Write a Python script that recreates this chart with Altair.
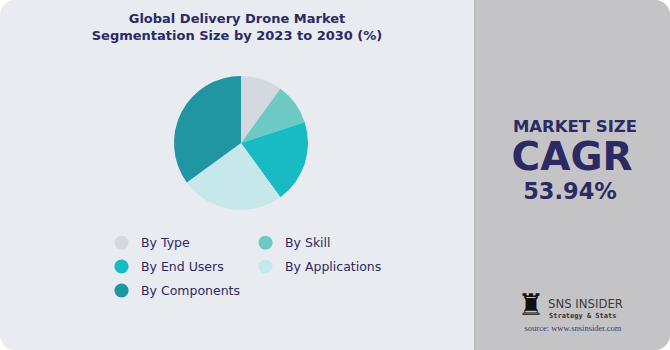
import altair as alt
import pandas as pd

# ---- data ----
segments = ["By Type", "By Skill", "By End Users", "By Applications", "By Components"]
shares = [10, 10, 20, 25, 35]
colors = ["#d3d9df", "#6cc9c4", "#18bac4", "#c6e8ea", "#2196a3"]
# legend reading order (column-major fill of a 2-column grid)
legend_order = ["By Type", "By End Users", "By Components", "By Skill", "By Applications"]

title_lines = ["Global Delivery Drone Market", "Segmentation Size by 2023 to 2030 (%)"]
side_label = ["MARKET SIZE"]
side_big = ["CAGR"]
side_value = ["53.94%"]
brand_name = ["SNS INSIDER"]
brand_tag = ["Strategy & Stats"]
source_text = ["source: www.snsinsider.com"]

NAVY = "#2b2a63"
FONT = "DejaVu Sans"

color_of = dict(zip(segments, colors))
pie_df = pd.DataFrame({"segment": segments, "share": shares, "idx": list(range(len(segments)))})
one = pd.DataFrame({"k": [0]})

bg_left = alt.Chart(one).mark_rect(color="#e8ebf0", cornerRadius=15).encode(
    x=alt.value(0), x2=alt.value(670), y=alt.value(0), y2=alt.value(350)
)
bg_right = alt.Chart(one).mark_rect(
    color="#c4c4c6", cornerRadiusTopRight=15, cornerRadiusBottomRight=15
).encode(x=alt.value(474), x2=alt.value(670), y=alt.value(0), y2=alt.value(350))
divider = alt.Chart(one).mark_rect(color="#b9babd").encode(
    x=alt.value(474), x2=alt.value(475.5), y=alt.value(0), y2=alt.value(350)
)

pie = alt.Chart(pie_df).mark_arc(radius=67, stroke=None).encode(
    theta=alt.Theta("share:Q", stack=True),
    order=alt.Order("idx:Q"),
    color=alt.Color(
        "segment:N",
        scale=alt.Scale(domain=legend_order, range=[color_of[s] for s in legend_order]),
        legend=alt.Legend(
            title=None,
            orient="none",
            legendX=114,
            legendY=235,
            columns=2,
            symbolType="circle",
            symbolSize=200,
            symbolStrokeWidth=0,
            labelFont=FONT,
            labelFontSize=12.5,
            labelColor=NAVY,
            labelOffset=12,
            rowPadding=9,
            columnPadding=17,
        ),
    ),
    x=alt.value(241),
    y=alt.value(143),
)


def txt(values, x, y, size, weight="normal", font=FONT, color=NAVY, align="center", baseline="middle"):
    return alt.Chart(pd.DataFrame({"t": values})).mark_text(
        font=font, fontSize=size, fontWeight=weight, color=color, align=align, baseline=baseline
    ).encode(text="t:N", x=alt.value(x), y=alt.value(y))


title1 = txt(title_lines[:1], 237, 19, 13, "bold")
title2 = txt(title_lines[1:], 237, 36, 13, "bold")
t_market = txt(side_label, 575, 132, 16.5, 900, baseline="alphabetic")
t_cagr = txt(side_big, 572, 170, 39, 900, baseline="alphabetic")
t_value = txt(side_value, 570, 198.5, 22.5, 900, baseline="alphabetic")
rook = txt(["♜"], 531, 306, 30, "normal", "DejaVu Sans", "#111111")
t_brand = txt(brand_name, 548, 304, 13, "normal", "DejaVu Sans Condensed", "#3a3a3a", "left")
t_tag = txt(brand_tag, 549, 316, 7, "bold", "DejaVu Sans Mono", "#333333", "left")
t_src = txt(source_text, 573, 328, 8.5, "normal", "Liberation Serif", "#3b3a78")

chart = alt.layer(
    bg_left, bg_right, divider, pie, title1, title2, t_market, t_cagr, t_value,
    rook, t_brand, t_tag, t_src
).properties(width=670, height=350, autosize=alt.AutoSizeParams(type="none"), padding=0).configure(
    background="white"
).configure_view(stroke=None)

chart.save("out.html", embed_options={"renderer": "svg", "actions": False})
